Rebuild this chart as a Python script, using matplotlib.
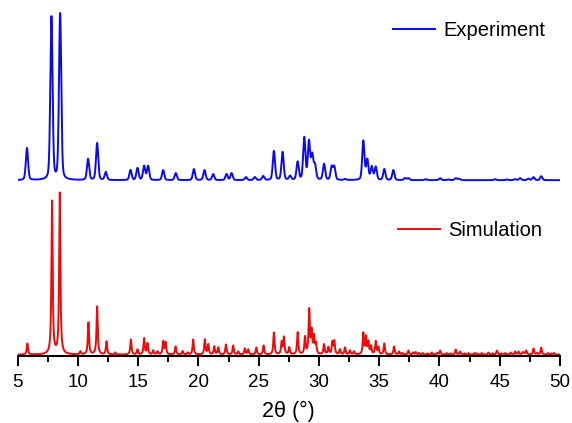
import numpy as np
import matplotlib
matplotlib.use('Agg')
import matplotlib.pyplot as plt
from matplotlib.lines import Line2D

plt.rcParams['font.family'] = ['Liberation Sans', 'DejaVu Sans']

# peak positions (2theta, deg) and heights (a.u.)
exp_pos = [5.77, 7.80, 8.52, 10.84, 11.59, 12.31, 14.36, 14.94, 15.49, 15.82,
           17.07, 18.12, 19.62, 20.50, 21.22, 22.33, 22.75, 23.94, 24.68, 25.37,
           26.26, 26.98, 27.60, 28.23, 28.78, 29.17, 29.44, 29.67, 30.42, 31.05,
           31.27, 32.16, 33.68, 34.01, 34.38, 34.71, 35.42, 36.17, 37.14, 37.42,
           38.86, 40.05, 40.74, 41.35, 41.63, 44.62, 45.59, 46.28, 46.69, 47.38,
           47.80, 48.44]
exp_int = [32, 163, 166, 21, 37, 8, 10, 12, 14, 14,
           10, 7, 11, 10, 6, 6, 7, 3, 3, 4,
           29, 28, 4, 18, 42, 38, 24, 14, 16, 13,
           13, 1, 39, 20, 13, 13, 11, 10, 2, 2,
           1, 2, 0.7, 2, 1.5, 1, 0.7, 1, 2, 1.5,
           3, 4]

sim_pos = [5.80, 7.85, 8.49, 10.20, 10.87, 11.59, 12.37, 14.39, 14.94, 15.49,
           15.77, 16.24, 17.07, 17.27, 18.10, 18.68, 19.56, 20.53, 20.81, 21.31,
           21.64, 22.28, 22.88, 23.85, 24.13, 24.80, 25.40, 26.26, 26.90, 27.09,
           27.53, 28.23, 28.84, 29.19, 29.39, 29.59, 29.75, 30.42, 30.78, 31.11,
           31.27, 31.74, 32.16, 32.57, 33.68, 33.90, 34.10, 34.32, 34.71, 34.93,
           35.42, 36.23, 36.64, 37.42, 38.03, 39.36, 40.05, 40.60, 41.35, 41.71,
           42.40, 44.06, 44.76, 45.45, 46.28, 46.56, 47.20, 47.80, 48.44, 49.00,
           13.10, 16.60, 19.10, 23.30, 32.90, 37.80, 38.60, 39.80, 42.90, 43.50,
           45.90, 46.90, 49.50, 36.90, 38.30, 39.00, 40.90, 42.10, 43.10, 44.40,
           45.10, 47.00, 48.10, 49.30]
sim_int = [11, 153, 161, 3, 32, 48, 13, 15, 5, 16,
           11, 4, 13, 12, 8, 3.5, 15, 15, 10, 8,
           7, 10, 9, 6, 5, 7, 9, 22, 12, 17,
           7, 22, 17, 44, 22, 17, 10, 10, 7, 12,
           13, 5, 7, 4, 21, 17, 12, 8, 13, 7,
           11, 8, 3, 4, 2.5, 2, 4, 1.5, 5, 3,
           1.5, 2, 4, 1.5, 3, 3, 4, 6, 7, 1.5,
           2, 3, 2, 3, 3, 2, 1.5, 1.5, 1.5, 1.5,
           2, 2, 1.5, 1.5, 1.5, 1.2, 1.2, 1.2, 1.2, 1.2,
           1.2, 1.5, 1.5, 1.2]

exp_offset = 175.5
sim_offset = 1.0


def pseudo_voigt(x, pos, amp, fwhm, eta):
    y = np.zeros_like(x)
    g = fwhm / 2.3548
    hw = fwhm / 2
    for p, a in zip(pos, amp):
        lor = hw**2 / ((x - p)**2 + hw**2)
        gau = np.exp(-0.5 * ((x - p) / g)**2)
        y += a * (eta * lor + (1 - eta) * gau)
    return y


tt = np.linspace(5, 50, 9001)
y_exp = pseudo_voigt(tt, exp_pos, exp_int, 0.22, 0.3) + exp_offset
y_sim = pseudo_voigt(tt, sim_pos, sim_int, 0.12, 0.9) + sim_offset

blue = '#0a0aee'
red = '#ee0a0a'

fig = plt.figure(figsize=(5.72, 4.23), dpi=100)
ax = fig.add_axes([17.7 / 572, 67.3 / 423, 542.3 / 572, 355.7 / 423])

ax.plot(tt, y_exp, color=blue, lw=1.4)
ax.plot(tt, y_sim, color=red, lw=1.4)

ax.set_xlim(5, 50)
ax.set_ylim(0, 355.7)
ax.set_xticks(np.arange(5, 51, 5))
ax.set_xticks(np.arange(7.5, 50, 5), minor=True)
ax.tick_params(axis='x', which='major', direction='out', length=7, width=1.4,
               labelsize=13.5, pad=6)
ax.tick_params(axis='x', which='minor', direction='out', length=4.5, width=1.4)
ax.set_yticks([])
for s in ['left', 'right', 'top']:
    ax.spines[s].set_visible(False)
ax.spines['bottom'].set_linewidth(1.5)
ax.set_xlabel('2θ (°)', fontsize=15.5, labelpad=7)

leg_kw = dict(frameon=False, fontsize=14.5, borderpad=0, borderaxespad=0,
              handlelength=2.1, handletextpad=0.4, loc='center left')
leg1 = fig.legend(handles=[Line2D([], [], color=blue, lw=1.4)], labels=['Experiment'],
                  bbox_to_anchor=(392.7 / 572, 1 - 30.7 / 423), **leg_kw)
leg2 = fig.legend(handles=[Line2D([], [], color=red, lw=1.4)], labels=['Simulation'],
                  bbox_to_anchor=(398 / 572, 1 - 230.7 / 423), **leg_kw)

fig.savefig('out.png', dpi=100)
